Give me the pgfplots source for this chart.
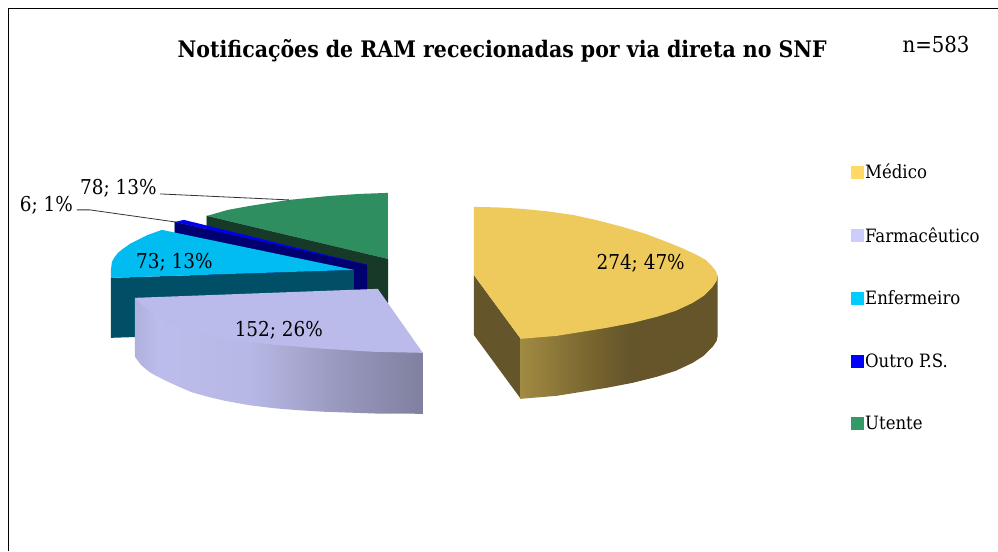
\documentclass[border=0pt]{standalone}
\usepackage{pgfplots}
\pgfplotsset{compat=1.18}
\usepackage{fontspec}
\setmainfont{DejaVu Serif Condensed}
\definecolor{goldtop}{HTML}{EEC95C}
\definecolor{goldside}{HTML}{65552B}
\definecolor{lavtop}{HTML}{BBBBEB}
\definecolor{cyantop}{HTML}{00BCF0}
\definecolor{cyanside}{HTML}{004F66}
\definecolor{bluetop}{HTML}{0000F0}
\definecolor{blueside}{HTML}{000070}
\definecolor{greentop}{HTML}{2E8E5F}
\definecolor{greenside}{HTML}{173A28}
\definecolor{lgold}{HTML}{FFD966}
\definecolor{llav}{HTML}{CCCCFF}
\definecolor{lcyan}{HTML}{00CCFF}
\definecolor{lblue}{HTML}{0000FF}
\definecolor{lgreen}{HTML}{339966}
\pgfdeclarehorizontalshading{goldcurve}{100bp}{rgb(0bp)=(0.63,0.54,0.26);rgb(25bp)=(0.63,0.54,0.26);rgb(45bp)=(0.45,0.38,0.18);rgb(52bp)=(0.40,0.335,0.17);rgb(75bp)=(0.40,0.335,0.17);rgb(100bp)=(0.40,0.335,0.17)}
\pgfdeclarehorizontalshading{lavcurve}{100bp}{rgb(0bp)=(0.69,0.69,0.87);rgb(25bp)=(0.69,0.69,0.87);rgb(29bp)=(0.74,0.74,0.925);rgb(45bp)=(0.72,0.72,0.90);rgb(60bp)=(0.60,0.60,0.75);rgb(75bp)=(0.50,0.50,0.625);rgb(100bp)=(0.50,0.50,0.625)}
\begin{document}
\begin{tikzpicture}
\begin{axis}[
  hide axis, scale only axis, width=998pt, height=551pt,
  xmin=0, xmax=998, ymin=0, ymax=551, y dir=reverse,
  clip=false,
  legend cell align=left,
  legend style={at={(axis cs:851,162)},anchor=north west,draw=none,fill=none,
    font=\fontsize{18.4}{22}\selectfont,row sep=43.2pt,inner sep=0pt},
  legend image code/.code={\fill[#1] (0pt,-6pt) rectangle (12pt,6pt);},
]
% page extent
\addplot[draw=none,forget plot] coordinates {(0,0) (998,551)};
% frame
\addplot[black,line width=1pt,forget plot] coordinates {(8.5,551) (8.5,8.5) (998,8.5)};
% Utente
\addplot[greenside,fill=greenside,forget plot] coordinates {(207,216) (388,259) (388,303) (207,260)} -- cycle;
\addplot[draw=none,fill=greentop,forget plot] coordinates {(388,259) (388,193) (360,194) (330,196) (289,200) (250,206) (228,210) (207,216)} -- cycle;
% Outro P.S.
\addplot[blueside,fill=blueside,forget plot] coordinates {(175,222) (367,265) (367,310) (175,267)} -- cycle;
\addplot[draw=none,fill=bluetop,forget plot] coordinates {(175,222) (184,220) (367,265)} -- cycle;
% Enfermeiro
\addplot[draw=none,fill=cyanside,forget plot] coordinates {(111,278) (354,270) (354,330) (111,338)} -- cycle;
\addplot[draw=none,fill=cyantop,forget plot] coordinates {(354,270) (162,230) (148,235) (138,240) (130,244) (123,249) (118,253) (114.5,257.5) (112,262) (111,270) (111,278)} -- cycle;
% Farmaceutico
\addplot[draw=none,shading=lavcurve,forget plot] coordinates {(135,298) (135,357) (138,361) (141,365) (145,368.5) (150,372.5) (157,376.5) (165,380.5) (178,386.5) (192,392.5) (208,397) (225,401) (250,405.5) (275,408.5) (300,410.5) (325,412) (375,413.7) (423,414) (423,353)} -- cycle;
\addplot[draw=none,fill=lavtop,forget plot] coordinates {(135,298) (378,289) (423,353) (375,352) (325,349) (300,347) (275,345) (250,342) (225,338.5) (208,335) (192,331) (178,326) (166,321.5) (158,317) (152,313) (146,308) (140,303)} -- cycle;
% Medico
\addplot[draw=none,fill=goldside,forget plot] coordinates {(474,275) (521,339) (521,399) (474,335)} -- cycle;
\addplot[draw=none,shading=goldcurve,forget plot] coordinates {(521,339) (718,276) (718,336) (717,341) (713,347) (704,356) (693,363) (676,371) (657,377) (633,383) (607,388) (582,392) (557,396) (521,399)} -- cycle;
\addplot[draw=none,fill=goldtop,forget plot] coordinates {(474,207) (498,207.5) (523,209) (548,211.5) (573,215) (598,220.5) (623,227) (646,234) (667,242) (683,248.5) (697,255) (706,260) (712,266) (716,271) (718,276) (717,281) (713,287) (704,296) (693,303) (676,311) (657,317) (633,323) (607,328) (582,332) (557,336) (521,339) (474,275)} -- cycle;
% leaders
\addplot[black!80,line width=0.8pt,forget plot] coordinates {(160,194) (289,200)};
\addplot[black!80,line width=0.8pt,forget plot] coordinates {(77,210) (90,210) (175,222)};
% legend
\addlegendimage{lgold}
\addlegendentry{Médico}
\addlegendimage{llav}
\addlegendentry{Farmacêutico}
\addlegendimage{lcyan}
\addlegendentry{Enfermeiro}
\addlegendimage{lblue}
\addlegendentry{Outro P.S.}
\addlegendimage{lgreen}
\addlegendentry{Utente}
% texts
\node[font=\fontsize{22.8}{28}\selectfont\bfseries] at (axis cs:502.5,51) {Notificações de RAM rececionadas por via direta no SNF};
\node[font=\fontsize{22}{26}\selectfont] at (axis cs:936.5,45) {n=583};
\node[font=\fontsize{20.5}{25}\selectfont] at (axis cs:641,263) {274; 47\%};
\node[font=\fontsize{20.5}{25}\selectfont] at (axis cs:279,330) {152; 26\%};
\node[font=\fontsize{20.5}{25}\selectfont] at (axis cs:174.5,262) {73; 13\%};
\node[font=\fontsize{20.5}{25}\selectfont] at (axis cs:118.5,188) {78; 13\%};
\node[font=\fontsize{20.5}{25}\selectfont] at (axis cs:46.5,205) {6; 1\%};
\end{axis}
\end{tikzpicture}
\end{document}
